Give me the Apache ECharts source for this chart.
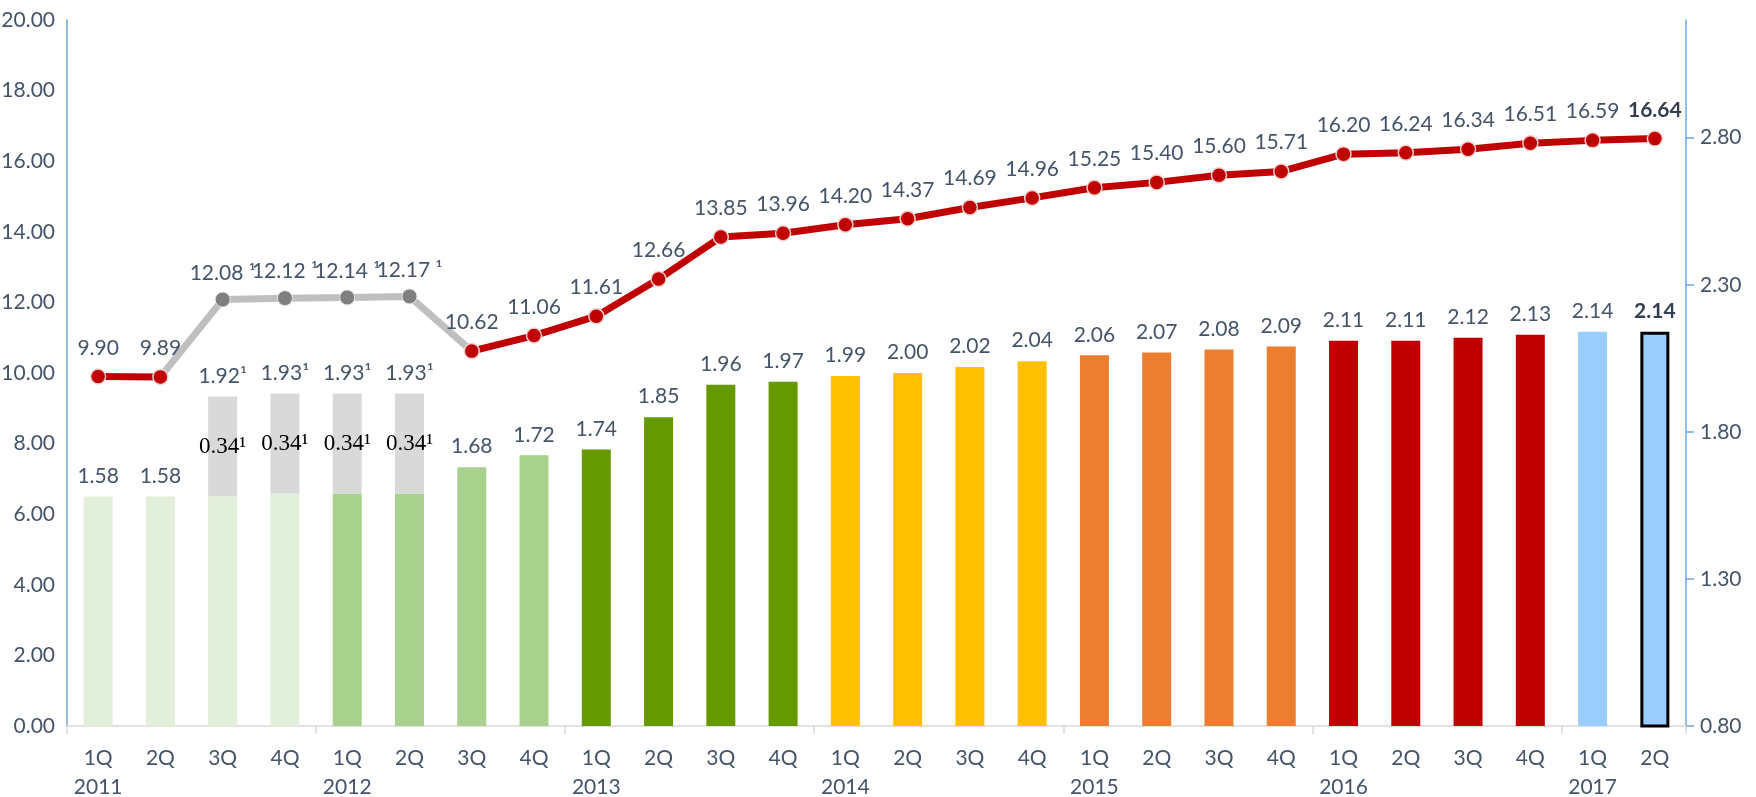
<!DOCTYPE html>
<html>
<head>
<meta charset="utf-8">
<script src="https://cdn.jsdelivr.net/npm/echarts@6/dist/echarts.min.js"></script>
<style>
html,body{margin:0;padding:0;background:#fff;}
#chart{width:1756px;height:797px;}
</style>
</head>
<body>
<div id="chart"></div>
<script>
const quarters = ['1Q','2Q','3Q','4Q','1Q','2Q','3Q','4Q','1Q','2Q','3Q','4Q','1Q','2Q','3Q','4Q','1Q','2Q','3Q','4Q','1Q','2Q','3Q','4Q','1Q','2Q'];
const years = ['2011','','','','2012','','','','2013','','','','2014','','','','2015','','','','2016','','','','2017',''];
const lineValues = [9.90,9.89,12.08,12.12,12.14,12.17,10.62,11.06,11.61,12.66,13.85,13.96,14.20,14.37,14.69,14.96,15.25,15.40,15.60,15.71,16.20,16.24,16.34,16.51,16.59,16.64];
const barValues = [1.58,1.58,1.58,1.59,1.59,1.59,1.68,1.72,1.74,1.85,1.96,1.97,1.99,2.00,2.02,2.04,2.06,2.07,2.08,2.09,2.11,2.11,2.12,2.13,2.14,2.14];
const addedValues = [null,null,0.34,0.34,0.34,0.34,null,null,null,null,null,null,null,null,null,null,null,null,null,null,null,null,null,null,null,null];
const leftTicks = [0,2,4,6,8,10,12,14,16,18,20];
const rightTicks = [0.80,1.30,1.80,2.30,2.80];

const barColors = ['#e2efda','#e2efda','#e2efda','#e2efda','#a9d18e','#a9d18e','#a9d18e','#a9d18e',
  '#669900','#669900','#669900','#669900','#ffc000','#ffc000','#ffc000','#ffc000',
  '#ed7d31','#ed7d31','#ed7d31','#ed7d31','#c00000','#c00000','#c00000','#c00000','#99ccff','#99ccff'];

const FONT = 'Lato';
const TXT = '#44546a';
const FS = 21;
const last = quarters.length - 1;
const isAdj = i => addedValues[i] != null;

const barData = barValues.map((v, i) => {
  const item = {value: v, itemStyle: {color: barColors[i]},
    label: {show: !isAdj(i)}};
  if (i === last) {
    item.itemStyle.borderColor = '#000';
    item.itemStyle.borderWidth = 3;
    item.label = {show: true, fontWeight: 'bold', color: '#333f50'};
  }
  return item;
});
const totalData = barValues.map((v, i) => isAdj(i) ? +(v + addedValues[i]).toFixed(2) : null);

const redData = lineValues.map((v, i) => {
  if (isAdj(i)) return null;
  if (i === last) return {value: v, label: {fontWeight: 'bold', color: '#333f50'}};
  return v;
});
const grayData = lineValues.map((v, i) => {
  if (isAdj(i)) return v;
  if (isAdj(i - 1) || isAdj(i + 1)) return {value: v, symbol: 'none', label: {show: false}};
  return null;
});

const chart = echarts.init(document.getElementById('chart'));
chart.setOption({
  animation: false,
  textStyle: {fontFamily: FONT},
  grid: {left: 67, right: 70, top: 20, bottom: 71, containLabel: false, outerBoundsMode: 'none'},
  xAxis: {
    type: 'category',
    data: quarters,
    axisLine: {lineStyle: {color: '#d9d9d9', width: 1.5}},
    axisTick: {show: true, length: 8, lineStyle: {color: '#d9d9d9', width: 1.5},
      interval: (i) => i % 4 === 0},
    axisLabel: {
      interval: 0, margin: 18, fontFamily: FONT, fontSize: FS, color: TXT, lineHeight: 29,
      formatter: (v, i) => years[i] ? v + '\n' + years[i] : v
    }
  },
  yAxis: [
    {
      type: 'value', min: leftTicks[0], max: leftTicks[leftTicks.length - 1], interval: 2,
      axisLine: {show: true, lineStyle: {color: '#6fa8dc', width: 1.5}},
      axisTick: {show: false},
      splitLine: {show: false},
      axisLabel: {fontFamily: FONT, fontSize: FS, color: TXT, margin: 12,
        formatter: v => v.toFixed(2)}
    },
    {
      type: 'value', min: 0.8, max: 3.2, interval: 0.5,
      axisLine: {show: true, lineStyle: {color: '#6fa8dc', width: 1.5}},
      axisTick: {show: true, length: 8, lineStyle: {color: '#6fa8dc', width: 1.5}},
      splitLine: {show: false},
      axisLabel: {fontFamily: FONT, fontSize: FS, color: TXT, margin: 14, showMaxLabel: false,
        formatter: v => rightTicks.some(t => Math.abs(t - v) < 1e-6) ? v.toFixed(2) : ''}
    }
  ],
  series: [
    {
      name: 'bars', type: 'bar', yAxisIndex: 1, stack: 's', barWidth: 29,
      data: barData,
      label: {position: 'top', distance: 10, fontFamily: FONT, fontSize: FS, color: TXT,
        formatter: p => p.value.toFixed(2)}
    },
    {
      name: 'added', type: 'bar', yAxisIndex: 1, stack: 's', barWidth: 29,
      data: addedValues,
      itemStyle: {color: '#d9d9d9'},
      label: {show: true, position: 'inside', fontFamily: 'Liberation Serif', fontSize: 23, color: '#000',
        formatter: p => p.value.toFixed(2) + '¹'}
    },
    {
      name: 'totals', type: 'scatter', yAxisIndex: 1, symbolSize: 0,
      data: totalData,
      itemStyle: {opacity: 1},
      label: {show: true, position: 'top', distance: 10, fontFamily: FONT, fontSize: FS, color: TXT,
        formatter: p => p.value.toFixed(2) + '¹'},
      z: 5
    },
    {
      name: 'restated', type: 'line', yAxisIndex: 0,
      data: grayData,
      lineStyle: {color: '#bfbfbf', width: 7},
      itemStyle: {color: '#7f7f7f', borderColor: '#e6e6e6', borderWidth: 1},
      symbol: 'circle', symbolSize: 15, showAllSymbol: true,
      label: {show: true, position: 'top', distance: 8, fontFamily: FONT, fontSize: FS, color: TXT,
        formatter: p => p.value.toFixed(2) + ' ¹'},
      z: 6
    },
    {
      name: 'ratio', type: 'line', yAxisIndex: 0,
      data: redData,
      connectNulls: false,
      lineStyle: {color: '#c00000', width: 7},
      itemStyle: {color: '#c00000', borderColor: '#f0d0d0', borderWidth: 1.5},
      symbol: 'circle', symbolSize: 15, showAllSymbol: true,
      label: {show: true, position: 'top', distance: 10, fontFamily: FONT, fontSize: FS, color: TXT,
        formatter: p => p.value.toFixed(2)},
      z: 7
    }
  ]
});
</script>
</body>
</html>
